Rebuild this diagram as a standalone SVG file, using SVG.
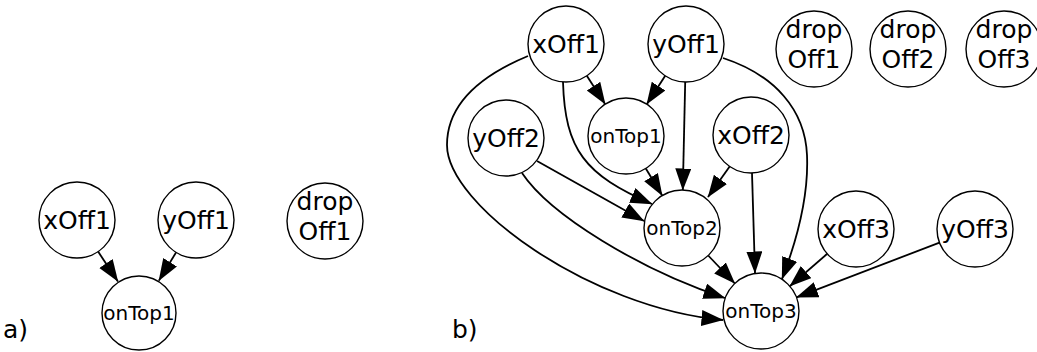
<svg xmlns="http://www.w3.org/2000/svg" width="1037" height="352" viewBox="0 0 1037 352">
<style>
.n{fill:#fff;stroke:#000;stroke-width:1.4}
.t{font-family:"DejaVu Sans","Liberation Sans",sans-serif;font-size:25px;text-anchor:middle;fill:#000}
.s{font-family:"DejaVu Sans","Liberation Sans",sans-serif;font-size:20px;text-anchor:middle;fill:#000}
.p{font-family:"DejaVu Sans","Liberation Sans",sans-serif;font-size:25px;fill:#000}
.e{fill:none;stroke:#000;stroke-width:1.8;marker-end:url(#ah)}
</style>
<defs>
<marker id="ah" markerUnits="userSpaceOnUse" markerWidth="24" markerHeight="18" refX="21.5" refY="8" orient="auto">
<path d="M0,0 L22,8 L0,16 z" fill="#000"/>
</marker>
</defs>
<rect width="1037" height="352" fill="#fff"/>
<text class="p" x="3" y="338">a)</text>
<text class="p" x="452" y="338">b)</text>
<g id="connectors">
<path class="e" d="M98.1,251.6 L117.9,281.4"/>
<path class="e" d="M176.1,252.4 L158.9,280.6"/>
<path class="e" d="M586.8,75.8 L605.2,104.2"/>
<path class="e" d="M665.2,75.8 L646.8,104.2"/>
<path class="e" d="M685.2,82 L682.8,190"/>
<path class="e" d="M645.8,168.5 L662.2,195.5"/>
<path class="e" d="M730,166 L708,197"/>
<path class="e" d="M537,161 L644,221"/>
<path class="e" d="M752,173 L755,273"/>
<path class="e" d="M708.2,255.5 L734.8,283.5"/>
<path class="e" d="M827.2,253.8 L789.8,286.2"/>
<path class="e" d="M939.5,242.6 L796.5,297.4"/>
<path class="e" d="M563,82 C565,150 585,175 652,204"/>
<path class="e" d="M528,56 C475,78 447,108 447,145 C447,205 590,308 723,320"/>
<path class="e" d="M522,173 C550,215 640,270 725,298"/>
<path class="e" d="M723,58 C775,75 805,110 807,155 C809,200 795,245 782,279"/>
</g>
<g id="a_xOff1"><circle class="n" cx="77" cy="220" r="38"/><text class="t" x="77" y="229">xOff1</text></g>
<g id="a_yOff1"><circle class="n" cx="196" cy="220" r="38"/><text class="t" x="196" y="229">yOff1</text></g>
<g id="a_onTop1"><circle class="n" cx="139" cy="313" r="37"/><text class="s" x="139" y="320">onTop1</text></g>
<g id="a_dropOff1"><circle class="n" cx="325" cy="221" r="38"/><text class="t" x="325" y="210">drop</text><text class="t" x="325" y="240">Off1</text></g>
<g id="b_xOff1"><circle class="n" cx="566" cy="44" r="38"/><text class="t" x="566" y="53">xOff1</text></g>
<g id="b_yOff1"><circle class="n" cx="686" cy="44" r="38"/><text class="t" x="686" y="53">yOff1</text></g>
<g id="b_onTop1"><circle class="n" cx="626" cy="136" r="38"/><text class="s" x="626" y="143">onTop1</text></g>
<g id="b_yOff2"><circle class="n" cx="506" cy="138" r="38"/><text class="t" x="506" y="147">yOff2</text></g>
<g id="b_xOff2"><circle class="n" cx="751" cy="135" r="38"/><text class="t" x="751" y="144">xOff2</text></g>
<g id="b_onTop2"><circle class="n" cx="682" cy="228" r="38"/><text class="s" x="682" y="235">onTop2</text></g>
<g id="b_xOff3"><circle class="n" cx="856" cy="229" r="38"/><text class="t" x="856" y="238">xOff3</text></g>
<g id="b_yOff3"><circle class="n" cx="975" cy="229" r="38"/><text class="t" x="975" y="238">yOff3</text></g>
<g id="b_onTop3"><circle class="n" cx="761" cy="311" r="38"/><text class="s" x="761" y="318">onTop3</text></g>
<g id="b_dropOff1"><circle class="n" cx="814" cy="49" r="38"/><text class="t" x="814" y="38">drop</text><text class="t" x="814" y="68">Off1</text></g>
<g id="b_dropOff2"><circle class="n" cx="908" cy="49" r="38"/><text class="t" x="908" y="38">drop</text><text class="t" x="908" y="68">Off2</text></g>
<g id="b_dropOff3"><circle class="n" cx="1004" cy="49" r="38"/><text class="t" x="1004" y="38">drop</text><text class="t" x="1004" y="68">Off3</text></g>
</svg>
